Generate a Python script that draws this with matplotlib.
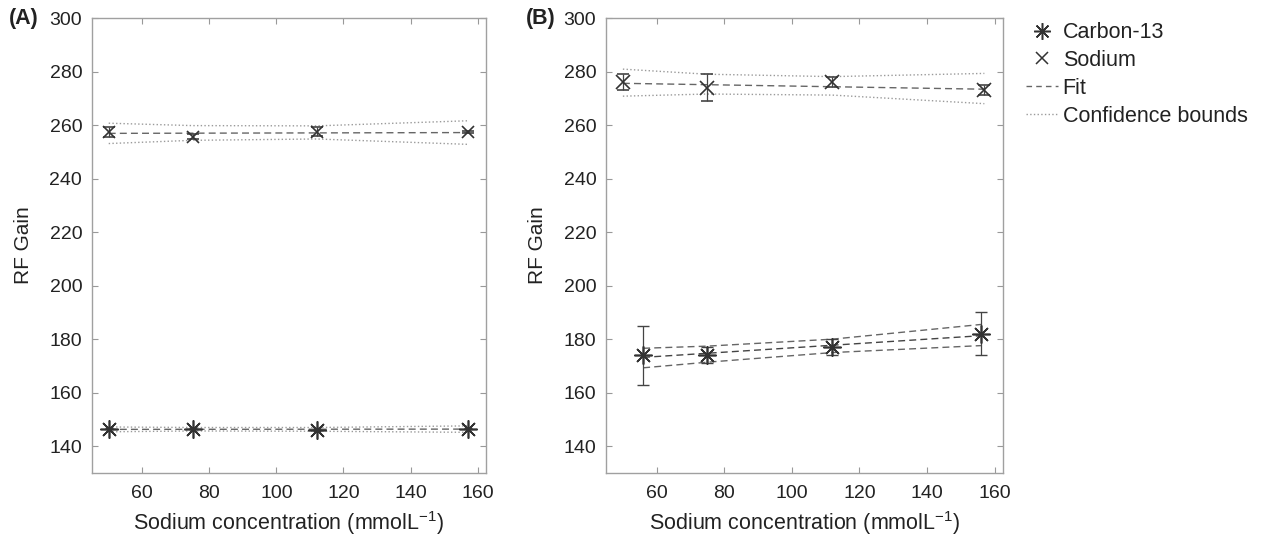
import matplotlib.pyplot as plt
from matplotlib.lines import Line2D

plt.rcParams['font.family'] = ['Liberation Sans', 'DejaVu Sans']

# panel A data
a_na_x = [50, 75, 112, 157]
a_na_y = [257.5, 255.7, 257.5, 257.3]
a_na_err = [1.8, 0.8, 1.7, 0.3]
a_c_x = [50, 75, 112, 157]
a_c_y = [146.6, 146.6, 146.0, 146.6]
a_c_err = [0.3, 0.3, 0.3, 0.3]
a_na_fit = [256.9, 257.2]
a_na_up = [260.7, 259.8, 259.7, 261.6]
a_na_lo = [253.1, 254.3, 254.8, 252.8]
a_c_fit = [146.3, 146.4]
a_c_up = [147.2, 147.0, 147.0, 147.6]
a_c_lo = [145.4, 145.7, 145.6, 145.2]

# panel B data
b_na_x = [50, 75, 112, 157]
b_na_y = [276.1, 274.0, 276.1, 273.1]
b_na_lo_err = [3.1, 5.0, 1.8, 2.0]
b_na_hi_err = [2.9, 5.0, 1.9, 1.8]
b_na_fit = [275.6, 273.4]
b_na_up = [280.9, 279.0, 278.1, 279.3]
b_na_lo = [270.8, 271.6, 271.2, 268.0]
b_c_x = [56, 75, 112, 156]
b_c_y = [174.0, 174.2, 177.1, 182.1]
b_c_lo_err = [11.0, 3.1, 2.9, 7.9]
b_c_hi_err = [11.0, 2.9, 2.9, 7.9]
b_c_fit = [173.2, 181.3]
b_c_up = [176.6, 177.4, 180.0, 185.5]
b_c_lo = [169.3, 171.4, 175.0, 177.6]

xticks = [60, 80, 100, 120, 140, 160]
yticks = [140, 160, 180, 200, 220, 240, 260, 280, 300]

ast = (8, 2, 0)
mcol = '#333333'
fitcol = '#666666'
bcol = '#9a9a9a'

fig = plt.figure(figsize=(12.63, 5.41), dpi=100)
axA = fig.add_axes([0.0728, 0.1257, 0.312, 0.841])
axB = fig.add_axes([0.4798, 0.1257, 0.3143, 0.841])


def style(ax):
    ax.set_xlim(45, 162.5)
    ax.set_ylim(130, 300)
    ax.set_xticks(xticks)
    ax.set_yticks(yticks)
    ax.tick_params(direction='in', length=4, width=0.8, color='#999999',
                   labelsize=14, top=True, right=True, pad=7, labelcolor='#222222')
    ax.tick_params(axis='x', pad=9)
    for s in ax.spines.values():
        s.set_color('#a0a0a0')
        s.set_linewidth(1.0)
    ax.set_xlabel('Sodium concentration (mmolL$^{\\mathregular{-1}}$)', fontsize=15.5, labelpad=5, color='#222222')
    ax.set_ylabel('RF Gain', fontsize=15, labelpad=12, color='#222222')


# panel A
axA.plot([a_na_x[0], a_na_x[-1]], a_na_fit, ls=(0, (5, 3)), color=fitcol, lw=1)
axA.plot(a_na_x, a_na_up, ls=':', color=bcol, lw=1)
axA.plot(a_na_x, a_na_lo, ls=':', color=bcol, lw=1)
axA.plot([a_c_x[0], a_c_x[-1]], a_c_fit, ls=(0, (5, 3)), color=fitcol, lw=1)
axA.plot(a_c_x, a_c_up, ls=':', color=bcol, lw=1)
axA.plot(a_c_x, a_c_lo, ls=':', color=bcol, lw=1)
axA.errorbar(a_na_x, a_na_y, yerr=a_na_err, fmt='x', color=mcol, ms=9, mew=1.2,
             elinewidth=0.9, capsize=4, ecolor='#444444')
axA.errorbar(a_c_x, a_c_y, yerr=a_c_err, fmt='none', ecolor='#444444', elinewidth=0.9, capsize=3)
axA.plot(a_c_x, a_c_y, ls='none', marker=ast, color=mcol, ms=13, mew=1.2)
style(axA)

# panel B
axB.plot([b_na_x[0], b_na_x[-1]], b_na_fit, ls=(0, (5, 3)), color=fitcol, lw=1)
axB.plot(b_na_x, b_na_up, ls=':', color=bcol, lw=1)
axB.plot(b_na_x, b_na_lo, ls=':', color=bcol, lw=1)
axB.plot([b_c_x[0], b_c_x[-1]], b_c_fit, ls=(0, (5, 3)), color='#444444', lw=1)
axB.plot(b_c_x, b_c_up, ls=(0, (5, 3)), color=fitcol, lw=1)
axB.plot(b_c_x, b_c_lo, ls=(0, (5, 3)), color=fitcol, lw=1)
axB.errorbar(b_na_x, b_na_y, yerr=[b_na_lo_err, b_na_hi_err], fmt='x', color=mcol, ms=10,
             mew=1.2, elinewidth=0.9, capsize=4, ecolor='#444444')
axB.errorbar(b_c_x, b_c_y, yerr=[b_c_lo_err, b_c_hi_err], fmt='none', ecolor='#444444',
             elinewidth=0.9, capsize=4)
axB.plot(b_c_x, b_c_y, ls='none', marker=ast, color=mcol, ms=13, mew=1.2)
style(axB)

fig.text(0.007, 0.965, '(A)', fontsize=15.5, fontweight='bold', va='center', color='#222222')
fig.text(0.416, 0.965, '(B)', fontsize=15.5, fontweight='bold', va='center', color='#222222')

handles = [
    Line2D([], [], ls='none', marker=ast, color=mcol, ms=12, mew=1.1),
    Line2D([], [], ls='none', marker='x', color=mcol, ms=9, mew=1.1),
    Line2D([], [], ls=(0, (4, 3)), color=fitcol, lw=1),
    Line2D([], [], ls=':', color=bcol, lw=1),
]
labels = ['Carbon-13', 'Sodium', 'Fit', 'Confidence bounds']
fig.legend(handles, labels, loc='upper left', bbox_to_anchor=(0.797, 0.995), frameon=False,
           fontsize=15.5, handlelength=1.5, handletextpad=0.2, labelspacing=0.32,
           labelcolor='#222222')

fig.savefig('out.png', dpi=100)
